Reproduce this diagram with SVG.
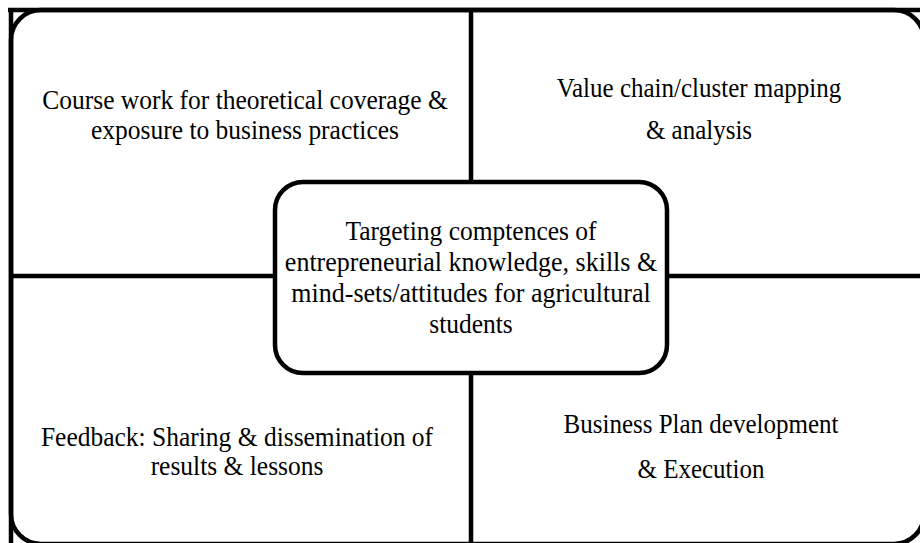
<svg xmlns="http://www.w3.org/2000/svg" width="920" height="543" viewBox="0 0 920 543">
<style>
.ln{stroke:#000;stroke-width:4.5;fill:none}
.t{font-family:"Liberation Serif","Times New Roman",serif;font-size:25px;fill:#000;text-anchor:middle}
</style>
<rect width="920" height="543" fill="#fff"/>
<g id="frame">
<rect class="ln" x="11" y="10" width="913" height="534" rx="30"/>
<line class="ln" x1="8" y1="10" x2="920" y2="10"/>
<line class="ln" x1="11" y1="8" x2="11" y2="543"/>
</g>
<g id="connectors">
<line class="ln" x1="471" y1="10" x2="471" y2="182"/>
<line class="ln" x1="471" y1="373" x2="471" y2="543"/>
<line class="ln" x1="11" y1="276" x2="275" y2="276"/>
<line class="ln" x1="667" y1="276" x2="920" y2="276"/>
</g>
<g id="q1">
<text class="t" transform="translate(245,109) scale(1.02,1.12)">Course work for theoretical coverage &amp;</text>
<text class="t" transform="translate(245,139) scale(1.02,1.12)">exposure to business practices</text>
</g>
<g id="q2">
<text class="t" transform="translate(699,97) scale(1,1.12)">Value chain/cluster mapping</text>
<text class="t" transform="translate(699,139) scale(1,1.12)">&amp; analysis</text>
</g>
<g id="q3">
<text class="t" transform="translate(237,446) scale(1.02,1.12)">Feedback: Sharing &amp; dissemination of</text>
<text class="t" transform="translate(237,475) scale(1.02,1.12)">results &amp; lessons</text>
</g>
<g id="q4">
<text class="t" transform="translate(701,433) scale(1,1.12)">Business Plan development</text>
<text class="t" transform="translate(701,478) scale(1,1.12)">&amp; Execution</text>
</g>
<g id="center">
<rect x="275" y="182" width="392" height="191" rx="28" fill="#fff" stroke="#000" stroke-width="4.5"/>
<text class="t" transform="translate(471,240) scale(1.02,1.12)">Targeting comptences of</text>
<text class="t" transform="translate(471,271) scale(1.04,1.12)">entrepreneurial knowledge, skills &amp;</text>
<text class="t" transform="translate(471,302) scale(1.04,1.12)">mind-sets/attitudes for agricultural</text>
<text class="t" transform="translate(471,333) scale(1.02,1.12)">students</text>
</g>
</svg>
